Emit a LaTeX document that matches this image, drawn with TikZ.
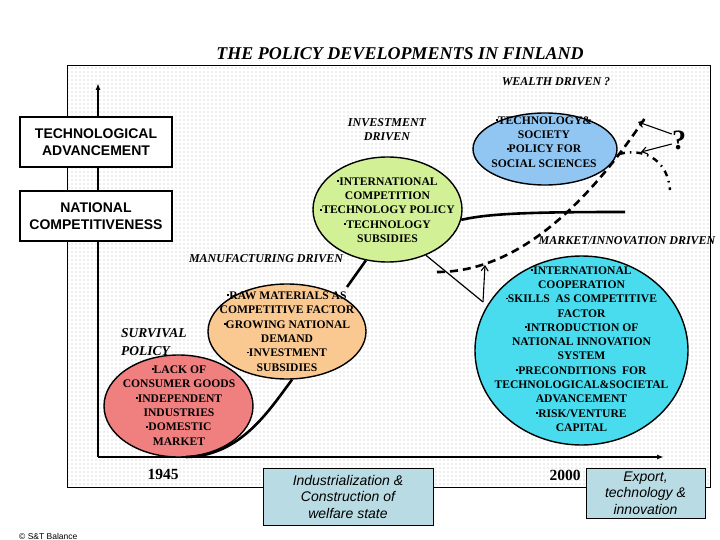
\documentclass[tikz,border=0pt]{standalone}
\usepackage{fontspec}
\setmainfont{Liberation Serif}
\newfontfamily\sansf{Liberation Sans}
\usetikzlibrary{shapes.geometric,arrows.meta,patterns}
\pgfdeclarepatternformonly{stipple}{\pgfqpoint{-1pt}{-1pt}}{\pgfqpoint{1pt}{1pt}}{\pgfqpoint{4pt}{4pt}}{\pgfpathcircle{\pgfqpoint{0pt}{0pt}}{0.55pt}\pgfusepath{fill}}
\definecolor{redc}{RGB}{240,128,128}
\definecolor{orc}{RGB}{250,200,145}
\definecolor{grc}{RGB}{210,240,150}
\definecolor{blc}{RGB}{145,198,242}
\definecolor{cyc}{RGB}{72,220,238}
\definecolor{boxc}{RGB}{185,220,228}
\newcommand\bu{\rule[0.28em]{0.17em}{0.17em}}
\begin{document}
\begin{tikzpicture}[x=1pt,y=-1pt,
  ell/.style={ellipse,draw,line width=1.4pt,inner sep=0pt},
  etxt/.style={font=\fontsize{11.6}{14.3}\selectfont\bfseries,align=center,inner sep=0pt},
  lbl/.style={font=\fontsize{12}{13.5}\selectfont\bfseries\itshape,align=center,inner sep=0pt},
  lbox/.style={draw,line width=2pt,fill=white,minimum width=152pt,minimum height=50pt,font=\sansf\bfseries\fontsize{14}{17}\selectfont,align=center,inner sep=0pt},
  botbox/.style={draw,line width=0.8pt,fill=boxc,font=\sansf\itshape\fontsize{14}{16.5}\selectfont,align=center,inner sep=0pt},
  axisln/.style={line width=1.8pt,-{Latex[length=7pt,width=5pt]}},
  scurve/.style={line width=2.6pt},
  thinln/.style={line width=1.2pt},
  barb/.style={line width=1.1pt,-{Straight Barb[length=5pt,width=7pt]}},
  dashc/.style={line width=2.6pt,dash pattern=on 8pt off 5pt},
  ddash/.style={line width=2.4pt,dash pattern=on 6pt off 5pt on 1.5pt off 5pt},
]
\useasboundingbox (0,0) rectangle (720,540);
\fill[white] (0,0) rectangle (720,540);
% panel
\path[pattern=stipple,pattern color=gray!55] (67,65) rectangle (710,487);
\draw[line width=0.8pt] (67,65) rectangle (710,487);
% title
\node[font=\fontsize{18}{20}\selectfont\bfseries\itshape] (title) at (400,54) {THE POLICY DEVELOPMENTS IN FINLAND};
% axes
\coordinate (o) at (98,457);
\coordinate (ytop) at (98,83);
\coordinate (xend) at (664,457);
\draw[axisln] (o) -- (ytop);
\draw[axisln] (o) -- (xend);
% left boxes
\node[lbox] (tech) at (96,142) {TECHNOLOGICAL\\ADVANCEMENT};
\node[lbox] (natc) at (96,216) {NATIONAL\\COMPETITIVENESS};
% ellipses
\node[ell,fill=redc,minimum width=149pt,minimum height=102pt] (re) at (178.5,406) {};
\node[ell,fill=orc,minimum width=158pt,minimum height=95pt] (or) at (287,331.5) {};
\node[ell,fill=grc,minimum width=149pt,minimum height=105pt] (gr) at (387.5,209.5) {};
\node[ell,fill=blc,minimum width=144pt,minimum height=72pt] (bl) at (545,149) {};
\node[ell,fill=cyc,minimum width=213pt,minimum height=189pt] (cy) at (581.5,350.5) {};
% main curve
\coordinate (s0) at (186,457);
\coordinate (m1) at (347,287);
\coordinate (g1) at (625,212);
\draw[scurve] (s0) .. controls (240,456) and (268,412) .. (or.-84);
\draw[scurve] (m1) -- (gr.247);
\draw[scurve] (gr.-8) .. controls (490,213) and (540,212) .. (g1);
% ellipse texts
\node[etxt] (ret) at (179,405.5) {\bu LACK OF\\CONSUMER GOODS\\\bu INDEPENDENT\\INDUSTRIES\\\bu DOMESTIC\\MARKET};
\node[etxt] (ort) at (287,331.5) {\bu RAW MATERIALS AS\\COMPETITIVE FACTOR\\\bu GROWING NATIONAL\\DEMAND\\\bu INVESTMENT\\SUBSIDIES};
\node[etxt] (grt) at (387.5,210) {\bu INTERNATIONAL\\COMPETITION\\\bu TECHNOLOGY POLICY\\\bu TECHNOLOGY\\SUBSIDIES};
\node[etxt] (blt) at (544,142) {\bu TECHNOLOGY\&\\SOCIETY\\\bu POLICY FOR\\SOCIAL SCIENCES};
\node[etxt] (cyt) at (581.5,349) {\bu INTERNATIONAL\\COOPERATION\\\bu SKILLS~ AS COMPETITIVE\\FACTOR\\\bu INTRODUCTION OF\\NATIONAL INNOVATION\\SYSTEM\\\bu PRECONDITIONS~ FOR\\TECHNOLOGICAL\&SOCIETAL\\ADVANCEMENT\\\bu RISK/VENTURE\\CAPITAL};
% labels
\node[lbl] (wealth) at (556,82) {WEALTH DRIVEN ?};
\node[lbl] (invest) at (387,129.5) {INVESTMENT\\DRIVEN};
\node[lbl] (manuf) at (266,259) {MANUFACTURING DRIVEN};
\node[lbl] (market) at (627,241) {MARKET/INNOVATION DRIVEN};
\node[lbl,font=\fontsize{13.5}{17.5}\selectfont\bfseries\itshape,align=left,anchor=west] (surv) at (121,342) {SURVIVAL\\POLICY};
% thin connector and arrow
\coordinate (k1) at (483,302);
\coordinate (k2) at (485,265);
\draw[thinln] (gr.-50) -- (k1);
\draw[barb] (k1) -- (k2);
% dashed curve
\coordinate (d0) at (437,272);
\coordinate (d1) at (645,118);
\draw[dashc] (d0) .. controls (520,272) and (590,200) .. (d1);
% dash-dot curve
\coordinate (e0) at (619,154);
\coordinate (e1) at (670,190);
\draw[ddash] (e0) .. controls (648,147) and (668,163) .. (e1);
% question mark
\node[font=\fontsize{28}{28}\selectfont\bfseries,inner sep=0pt] (q) at (679,140) {?};
\coordinate (a1) at (638,122);
\coordinate (a2) at (641,152);
\draw[barb] ([yshift=6pt]q.west) -- (a1);
\draw[barb] ([yshift=-4pt]q.west) -- (a2);
% years
\node[font=\fontsize{15.5}{16}\selectfont\bfseries] (y45) at (163,474.5) {1945};
\node[font=\fontsize{15.5}{16}\selectfont\bfseries] (y00) at (565,475) {2000};
% bottom boxes
\node[botbox,minimum width=170pt,minimum height=57pt] (ind) at (348,496.5) {Industrialization \&\\Construction of\\welfare state};
\node[botbox,minimum width=119pt,minimum height=50pt] (exp) at (645.5,493) {Export,\\technology \&\\innovation};
% copyright
\node[font=\sansf\fontsize{8.5}{9}\selectfont,anchor=west,inner sep=0pt] (copy) at (19,536) {© S\&T Balance};
\end{tikzpicture}
\end{document}
